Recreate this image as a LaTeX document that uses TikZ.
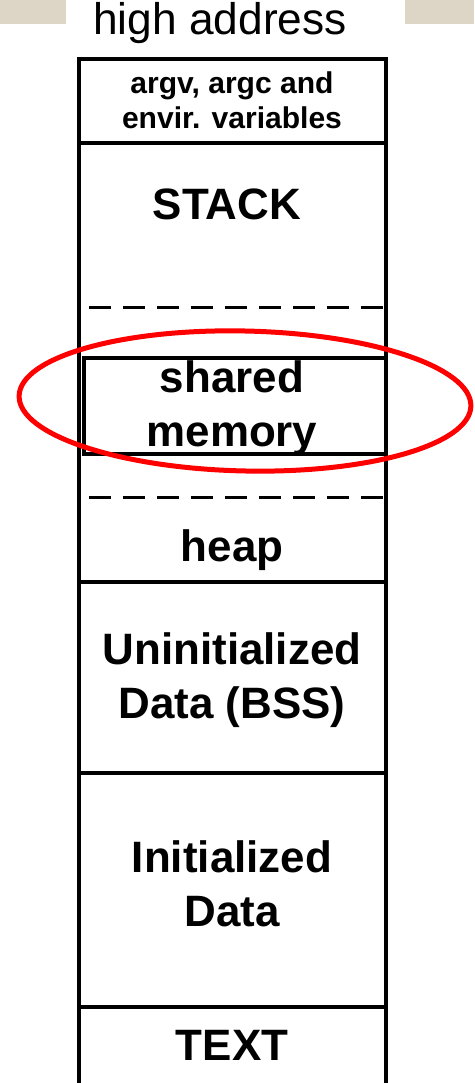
\documentclass[tikz,border=0pt]{standalone}
\usepackage{fontspec}
\setmainfont{Liberation Sans}
\definecolor{bargrey}{RGB}{221,214,199}

\begin{document}
\begin{tikzpicture}[x=0.02cm,y=0.02cm,
    segtext/.style={font=\bfseries\fontsize{25}{30.7}\selectfont,align=center,inner sep=0pt},
    wall/.style={line width=0.08cm}]
  \useasboundingbox (0,0) rectangle (474,1083);
  \fill[bargrey] (0,1059) rectangle (66,1083);
  \fill[bargrey] (405,1059) rectangle (474,1083);
  \node[anchor=base,inner sep=0pt,font=\fontsize{25.2}{30}\selectfont] (high) at (220,1048) {high address};
  % memory column
  \draw[wall] (79,0) -- (79,1024) -- (386,1024) -- (386,0);
  \foreach \y in {940,501,310,76} \draw[wall] (79,\y) -- (386,\y);
  \foreach \y in {775,585} \draw[line width=0.06cm,dash pattern=on 0.44cm off 0.24cm] (89,\y) -- (390,\y);
  \draw[line width=0.07cm] (84,629) rectangle (386,725);
  \node[segtext,font=\bfseries\fontsize{17.1}{19.9}\selectfont] (args) at (232,983) {argv, argc and\\envir. variables};
  \node[segtext,anchor=base] (stack) at (227,863) {STACK};
  \node[segtext] (shm) at (232,675) {shared\\memory};
  \node[segtext,anchor=base] (heap) at (232,521) {heap};
  \node[segtext] (bss) at (232,403) {Uninitialized\\Data (BSS)};
  \node[segtext] (data) at (232,199) {Initialized\\Data};
  \node[segtext,anchor=base] (text) at (232,23) {TEXT};
  % highlight
  \draw[red,line width=0.1cm,rotate around={-1.3:(245,682)}] (245,682) ellipse [x radius=4.52cm,y radius=1.4cm];
\end{tikzpicture}
\end{document}
